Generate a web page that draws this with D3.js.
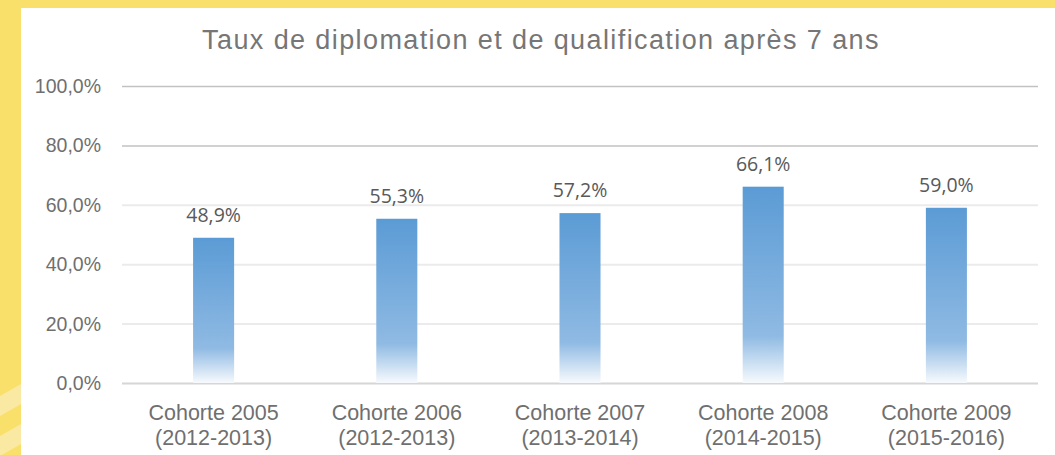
<!DOCTYPE html>
<html>
<head>
<meta charset="utf-8">
<script src="https://cdn.jsdelivr.net/npm/d3@7"></script>
<style>
  body { margin: 0; background: #f9e06a; }
  svg { display: block; }
</style>
</head>
<body>
<svg width="1055" height="455"></svg>
<script>
const cohorts = ["Cohorte 2005", "Cohorte 2006", "Cohorte 2007", "Cohorte 2008", "Cohorte 2009"];
const periods = ["(2012-2013)", "(2012-2013)", "(2013-2014)", "(2014-2015)", "(2015-2016)"];
const rates = [48.9, 55.3, 57.2, 66.1, 59.0];
const yTicks = [0, 20, 40, 60, 80, 100];

var svg = d3.select("svg"),
    width = +svg.attr("width"),
    height = +svg.attr("height");

const fmt = v => d3.format(".1f")(v).replace(".", ",") + "%";

// yellow backdrop with light stripes on the left edge
svg.append("rect").attr("width", width).attr("height", height).attr("fill", "#f9e06a");
[[384, 404], [424, 444]].forEach(function(s) {
  svg.append("polygon")
    .attr("points", `0,${s[0] + 12} 21,${s[0]} 21,${s[1]} 0,${s[1] + 12}`)
    .attr("fill", "#fae9a2");
});
svg.append("rect").attr("x", 21).attr("y", 8).attr("width", width - 21).attr("height", height - 8).attr("fill", "#fff");

var defs = svg.append("defs");
var grad = defs.append("linearGradient").attr("id", "barGrad")
  .attr("x1", 0).attr("y1", 0).attr("x2", 0).attr("y2", 1);
grad.append("stop").attr("offset", "0%").attr("stop-color", "#5b9bd5");
grad.append("stop").attr("offset", "76%").attr("stop-color", "#8fbae3");
grad.append("stop").attr("offset", "100%").attr("stop-color", "#f7fafd");

var x = d3.scaleBand().domain(cohorts).range([122, 1038]).paddingInner(0.776).paddingOuter(0.388);
var y = d3.scaleLinear().domain([0, 100]).range([383, 86]);

// title
svg.append("text")
  .attr("x", 541).attr("y", 49)
  .attr("text-anchor", "middle")
  .style("font-family", "'Liberation Sans', Arial, sans-serif")
  .style("font-size", "27px")
  .style("letter-spacing", "1.4px")
  .attr("fill", "#767676")
  .text("Taux de diplomation et de qualification après 7 ans");

// gridlines
svg.append("g").selectAll("line")
  .data(yTicks)
  .enter().append("line")
    .attr("x1", 122).attr("x2", 1038)
    .attr("y1", d => y(d) + 0.5).attr("y2", d => y(d) + 0.5)
    .attr("stroke", d => d === 0 ? "#d6d6d6" : (d >= 80 ? "#c2c2c2" : "#ebebeb"))
    .attr("stroke-width", d => d >= 80 ? 1.5 : 2);

// y labels
svg.append("g").selectAll("text")
  .data(yTicks)
  .enter().append("text")
    .attr("x", 101).attr("y", d => y(d) + 7)
    .attr("text-anchor", "end")
    .style("font-family", "'Liberation Sans', Arial, sans-serif")
    .style("font-size", "19.5px")
    .attr("fill", "#6f6f6f")
    .text(d => fmt(d));

// bars
svg.append("g").selectAll("rect")
  .data(rates)
  .enter().append("rect")
    .attr("x", (d, i) => x(cohorts[i]))
    .attr("y", d => y(d))
    .attr("width", x.bandwidth())
    .attr("height", d => y(0) - y(d))
    .attr("fill", "url(#barGrad)");

// value labels
svg.append("g").selectAll("text")
  .data(rates)
  .enter().append("text")
    .attr("x", (d, i) => x(cohorts[i]) + x.bandwidth() / 2)
    .attr("y", d => y(d) - 16)
    .attr("text-anchor", "middle")
    .style("font-family", "'Open Sans', sans-serif")
    .style("font-size", "19.5px")
    .attr("fill", "#595959")
    .text(d => fmt(d));

// category labels
var cat = svg.append("g").selectAll("text")
  .data(cohorts)
  .enter().append("text")
    .attr("text-anchor", "middle")
    .style("font-family", "'Liberation Sans', Arial, sans-serif")
    .style("font-size", "21.5px")
    .attr("fill", "#6f6f6f");
cat.append("tspan")
  .attr("x", d => x(d) + x.bandwidth() / 2).attr("y", 420)
  .text(d => d);
cat.append("tspan")
  .attr("x", d => x(d) + x.bandwidth() / 2).attr("y", 445)
  .text((d, i) => periods[i]);
</script>
</body>
</html>
